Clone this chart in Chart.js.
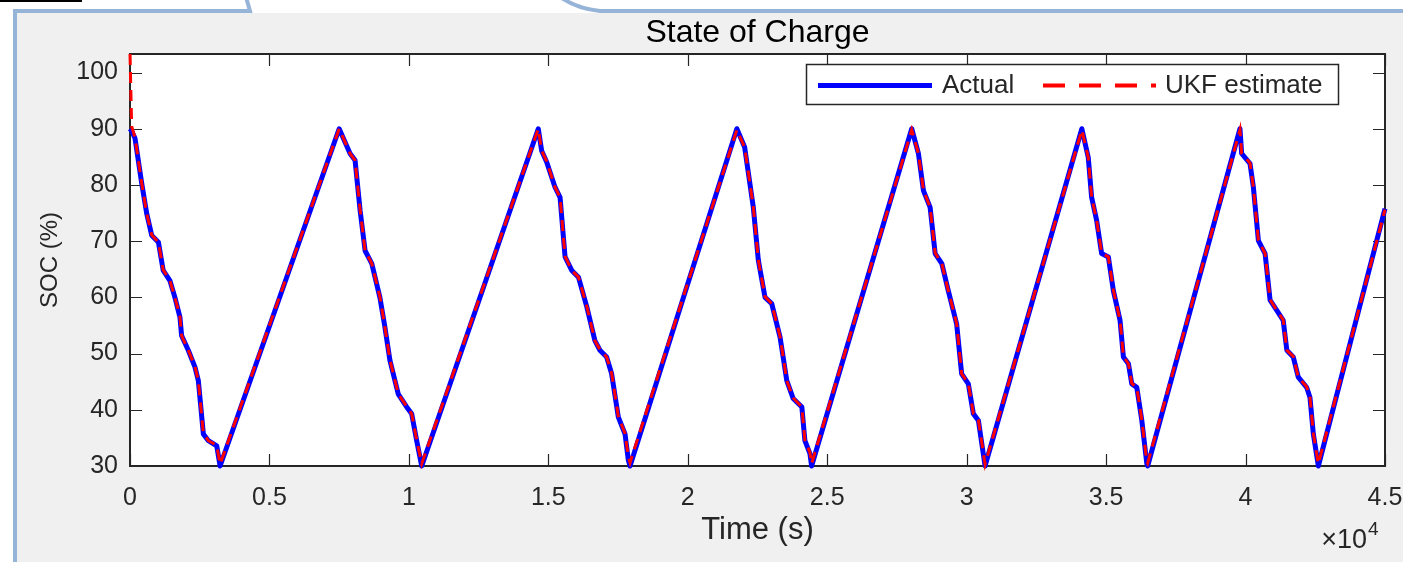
<!DOCTYPE html>
<html><head><meta charset="utf-8">
<script src="https://cdn.jsdelivr.net/npm/chart.js@4.4.1/dist/chart.umd.min.js"></script>
<style>html,body{margin:0;padding:0;background:#fff;overflow:hidden}canvas{display:block}</style>
</head><body>
<canvas id="c" width="1403" height="562"></canvas>
<script>
// ---- data (time in seconds, SOC in %) ----
const timeS = [
  0,60,180,420,600,780,1020,1190,1430,1610,1790,1850,2090,2330,2450,2630,2810,3110,3230,
  7500,
  7890,8070,8250,8430,8670,8960,9140,9320,9620,9920,10100,10280,10460,
  14640,
  14760,14940,15240,15420,15600,15840,16080,16380,16670,16850,17090,17270,17510,17750,17870,17930,
  21760,
  22040,22350,22530,22770,23010,23310,23550,23780,24090,24200,24380,24440,
  28030,
  28270,28450,28690,28870,29110,29340,29640,29820,30060,30240,30420,30660,
  34130,
  34360,34480,34660,34840,35080,35260,35500,35620,35800,35920,36100,36280,36460,36490,
  39800,
  39860,40160,40280,40460,40700,40880,41120,41350,41480,41710,41890,42190,42310,42430,42610,
  45000
];
const actualSOC = [
  90,89.6,88.3,80.3,74.9,71.0,69.8,64.8,63.0,60.0,56.5,53.2,50.6,47.6,45.2,35.7,34.5,33.6,30.0,
  90,
  85.6,84.4,75.5,68.3,66.0,60.0,54.7,48.8,42.8,40.5,39.3,34.5,30.0,
  90,
  86.1,84.1,79.6,77.8,67.2,64.8,63.6,58.3,52.3,50.6,49.4,46.4,38.7,35.7,31.0,30.0,
  90,
  86.7,76.0,66.6,60.0,58.9,52.9,45.2,42.0,40.5,34.5,32.2,30.0,
  90,
  85.6,79.0,76.0,67.8,66.0,61.2,55.3,46.4,44.6,39.3,38.1,30.0,
  90,
  84.9,77.8,73.7,67.8,67.2,61.2,55.9,49.4,48.2,44.6,44.0,38.1,30.4,30.0,
  90,
  85.6,83.8,79.6,70.1,67.8,59.5,57.7,55.9,50.6,49.4,45.8,44.0,42.2,35.7,30.0,
  75.8
];
const ukfSOC = [
  103.3,90.4,88.4,80.3,74.9,71.1,69.8,64.9,63.0,60.0,56.6,53.2,50.6,47.7,45.2,35.8,34.5,33.7,30.3,
  90,
  85.6,84.4,75.6,68.3,66.0,60.1,54.7,48.9,42.8,40.6,39.3,34.6,30.4,
  90,
  86.1,84.2,79.6,77.8,67.3,64.8,63.6,58.4,52.3,50.7,49.4,46.5,38.8,35.8,31.6,30.6,
  89.8,
  86.7,76.1,66.6,60.1,58.9,53.0,45.2,42.1,40.5,34.6,32.4,30.4,
  89.8,
  85.6,79.1,76.0,67.9,66.0,61.2,55.4,46.4,44.7,39.3,38.2,30.3,
  89.8,
  84.9,77.9,73.7,67.9,67.2,61.3,55.9,49.5,48.2,44.7,44.0,38.2,30.8,30.5,
  89.8,
  85.6,83.9,79.6,70.2,67.8,59.6,57.7,56.0,50.6,49.5,45.8,44.1,42.2,35.8,30.4,
  75.6
];
const seriesNames = ['Actual', 'UKF estimate'];
const xTickValues = [0,5000,10000,15000,20000,25000,30000,35000,40000,45000];
const xTickLabels = ['0','0.5','1','1.5','2','2.5','3','3.5','4','4.5'];
const yTickValues = [30,40,50,60,70,80,90,100];
const yTickLabels = ['30','40','50','60','70','80','90','100'];
const titleText = 'State of Charge';
const xAxisTitle = 'Time (s)';
const yAxisTitle = 'SOC (%)';
const xExponentBase = '\u00d710';
const xExponent = '4';

// ---- styles ----
const FONT = '"Liberation Sans", Arial, sans-serif';
const TXT = '#262626';
const W = 1403, H = 562;

const decor = {
  id: 'decor',
  afterLayout(chart) {
    const a = chart.chartArea, tb = chart.titleBlock;
    if (tb) { tb.left = a.left; tb.right = a.right; tb.width = a.right - a.left; }
  },
  beforeDraw(chart) {
    const ctx = chart.ctx, a = chart.chartArea;
    ctx.save();
    ctx.fillStyle = '#ffffff'; ctx.fillRect(0, 0, W, H);
    ctx.fillStyle = '#f0f0f0'; ctx.fillRect(17, 13, W - 17, H - 13);
    ctx.fillStyle = '#000000'; ctx.fillRect(0, 0, 82, 2);
    ctx.strokeStyle = '#96b3d8'; ctx.lineWidth = 4; ctx.lineJoin = 'miter';
    ctx.beginPath(); ctx.moveTo(15, H + 5); ctx.lineTo(15, 11); ctx.lineTo(250, 11); ctx.lineTo(246, -3); ctx.stroke();
    ctx.beginPath(); ctx.moveTo(560, -3); ctx.quadraticCurveTo(578, 9, 600, 11); ctx.lineTo(W + 5, 11); ctx.stroke();
    ctx.fillStyle = '#ffffff'; ctx.fillRect(a.left, a.top, a.right - a.left, a.bottom - a.top);
    ctx.restore();
  },
  beforeDatasetsDraw(chart) {
    const ctx = chart.ctx, a = chart.chartArea;
    const xs = chart.scales.x, ys = chart.scales.y;
    ctx.save();
    ctx.strokeStyle = TXT; ctx.lineWidth = 1.2;
    ctx.beginPath();
    xs.ticks.forEach(t => {
      const p = Math.round(xs.getPixelForValue(t.value)) + 0.5;
      ctx.moveTo(p, a.bottom); ctx.lineTo(p, a.bottom - 12);
      ctx.moveTo(p, a.top); ctx.lineTo(p, a.top + 12);
    });
    ys.ticks.forEach(t => {
      const p = Math.round(ys.getPixelForValue(t.value)) + 0.5;
      ctx.moveTo(a.left, p); ctx.lineTo(a.left + 12, p);
      ctx.moveTo(a.right, p); ctx.lineTo(a.right - 12, p);
    });
    ctx.stroke();
    ctx.lineWidth = 2;
    ctx.strokeRect(a.left, a.top, a.right - a.left, a.bottom - a.top);
    ctx.restore();
  },
  afterDatasetsDraw(chart) {
    const ctx = chart.ctx;
    ctx.save();
    // legend
    const lx = 806.5, ly = 64.5, lw = 532, lh = 40;
    ctx.fillStyle = '#ffffff'; ctx.fillRect(lx, ly, lw, lh);
    ctx.strokeStyle = TXT; ctx.lineWidth = 1.5; ctx.strokeRect(lx, ly, lw, lh);
    const my = ly + lh / 2 + 1;
    ctx.lineCap = 'butt';
    ctx.strokeStyle = chart.data.datasets[0].borderColor; ctx.lineWidth = 5;
    ctx.beginPath(); ctx.moveTo(818, my); ctx.lineTo(932, my); ctx.stroke();
    ctx.strokeStyle = chart.data.datasets[1].borderColor; ctx.lineWidth = 4;
    ctx.setLineDash([22, 14]);
    ctx.beginPath(); ctx.moveTo(1043, my); ctx.lineTo(1156, my); ctx.stroke();
    ctx.setLineDash([]);
    ctx.fillStyle = TXT; ctx.font = '26px ' + FONT; ctx.textBaseline = 'middle'; ctx.textAlign = 'left';
    ctx.fillText(chart.data.datasets[0].label, 942, my);
    ctx.fillText(chart.data.datasets[1].label, 1165, my);
    // x10^4
    ctx.textBaseline = 'alphabetic'; ctx.textAlign = 'right';
    ctx.font = '27px ' + FONT;
    ctx.fillText(xExponentBase, 1367, 548);
    ctx.textAlign = 'left'; ctx.font = '19px ' + FONT;
    ctx.fillText(xExponent, 1368, 535);
    ctx.restore();
  }
};

const pts = arr => timeS.map((t, i) => ({ x: t, y: arr[i] }));

new Chart(document.getElementById('c'), {
  type: 'line',
  data: {
    datasets: [
      { label: seriesNames[0], data: pts(actualSOC), borderColor: '#0000ff', backgroundColor: '#0000ff',
        borderWidth: 5, pointRadius: 0, tension: 0, order: 1, clip: 6, borderJoinStyle: 'round' },
      { label: seriesNames[1], data: pts(ukfSOC), borderColor: '#ff0000', backgroundColor: '#ff0000',
        borderWidth: 3, borderDash: [11, 7], pointRadius: 0, tension: 0, order: 0, clip: 6 }
    ]
  },
  options: {
    responsive: false, animation: false, devicePixelRatio: 1,
    layout: { padding: { top: 12, left: 0, right: 18, bottom: 0 } },
    plugins: {
      legend: { display: false }, tooltip: { enabled: false },
      title: { display: true, text: titleText, color: '#000000',
        font: { family: FONT, size: 32, weight: 'normal', lineHeight: 1.2 }, padding: { top: 2, bottom: 1.6 } }
    },
    scales: {
      x: { type: 'linear', min: 0, max: 45000,
        afterBuildTicks: s => { s.ticks = xTickValues.map(v => ({ value: v })); },
        afterFit: s => { s.height = 96; s.paddingLeft = 0; s.paddingRight = 0; },
        grid: { display: false, drawTicks: false }, border: { display: false },
        ticks: { color: TXT, padding: 17, maxRotation: 0, autoSkip: false,
          font: { family: FONT, size: 25 }, callback: (v, i) => xTickLabels[i] },
        title: { display: true, text: xAxisTitle, color: TXT,
          font: { family: FONT, size: 31, lineHeight: 1.2 }, padding: { top: 0, bottom: 13.4 } }
      },
      y: { type: 'linear', min: 30, max: 103.3,
        afterBuildTicks: s => { s.ticks = yTickValues.map(v => ({ value: v })); },
        afterFit: s => { s.width = 130; s.paddingTop = 0; s.paddingBottom = 0; },
        grid: { display: false, drawTicks: false }, border: { display: false },
        ticks: { color: TXT, padding: 12, autoSkip: false,
          font: { family: FONT, size: 25 }, callback: (v, i) => yTickLabels[i] },
        title: { display: true, text: yAxisTitle, color: TXT,
          font: { family: FONT, size: 24, lineHeight: 1.2 }, padding: { top: 35.6, bottom: 0 } }
      }
    }
  },
  plugins: [decor]
});
</script>
</body></html>
